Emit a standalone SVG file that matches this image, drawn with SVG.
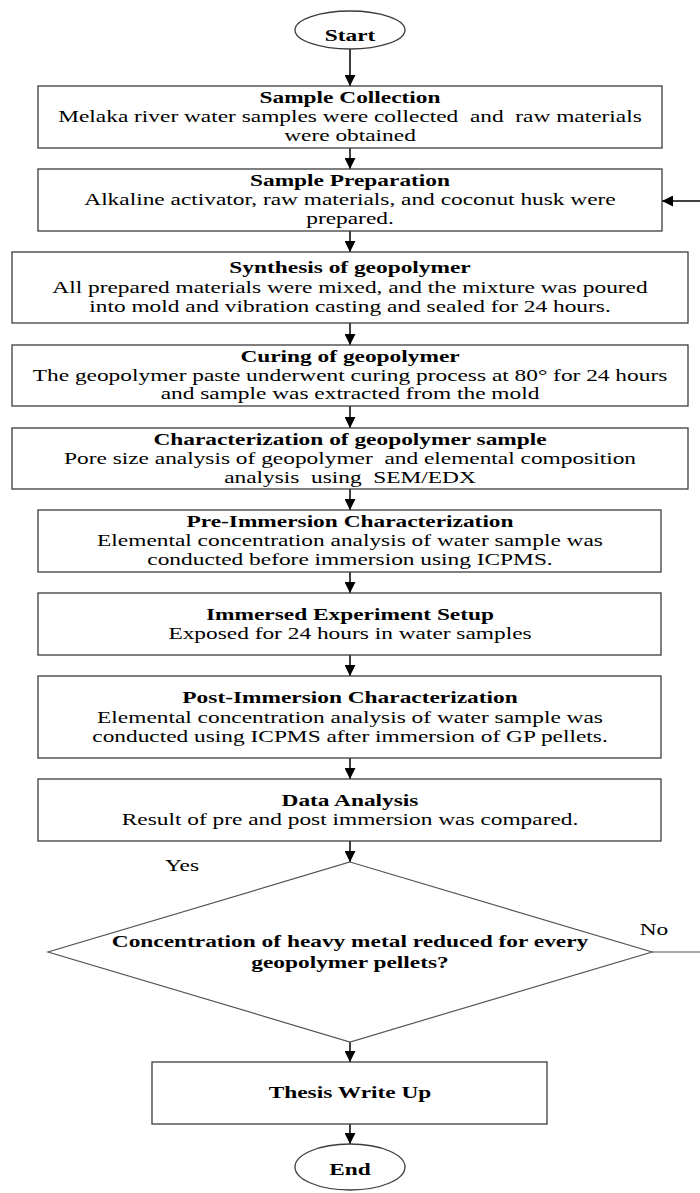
<svg xmlns="http://www.w3.org/2000/svg" width="700" height="1193" viewBox="0 0 700 1193">
<style>
.box{fill:#fff;stroke:#3c3c3c;stroke-width:1.3}
.dia{fill:#fff;stroke:#555;stroke-width:1.2}
.t{font-family:"Liberation Serif","Times New Roman",serif;font-size:16px;fill:#000;text-anchor:middle}
.b{font-weight:bold}
.c line{stroke:#000;stroke-width:1.5}
.c .plain{stroke:#555;stroke-width:1.2}
</style>
<defs>
<marker id="ah" viewBox="0 0 10 10" refX="10" refY="5" markerWidth="11" markerHeight="11" markerUnits="userSpaceOnUse" orient="auto">
<path d="M0,0 L10,5 L0,10 z" fill="#000"/>
</marker>
</defs>
<rect width="700" height="1193" fill="#fff"/>

<g id="connectors" class="c">
<line x1="350" y1="48" x2="350" y2="86" marker-end="url(#ah)"/>
<line x1="350" y1="148" x2="350" y2="169" marker-end="url(#ah)"/>
<line x1="350" y1="231" x2="350" y2="252" marker-end="url(#ah)"/>
<line x1="350" y1="323" x2="350" y2="345" marker-end="url(#ah)"/>
<line x1="350" y1="406" x2="350" y2="428" marker-end="url(#ah)"/>
<line x1="350" y1="489" x2="350" y2="510" marker-end="url(#ah)"/>
<line x1="350" y1="572" x2="350" y2="593" marker-end="url(#ah)"/>
<line x1="350" y1="655" x2="350" y2="676" marker-end="url(#ah)"/>
<line x1="350" y1="758" x2="350" y2="779" marker-end="url(#ah)"/>
<line x1="350" y1="841" x2="350" y2="862" marker-end="url(#ah)"/>
<line x1="350" y1="1042" x2="350" y2="1062" marker-end="url(#ah)"/>
<line x1="350" y1="1124" x2="350" y2="1144" marker-end="url(#ah)"/>
<line class="plain" x1="652" y1="952" x2="700" y2="952"/>
<line x1="700" y1="201" x2="662" y2="201" marker-end="url(#ah)"/>
</g>

<g id="start">
<ellipse class="box" cx="350" cy="30" rx="55" ry="19"/>
<g transform="translate(350 0) scale(1.46 1)"><text class="t b" x="0" y="41">Start</text></g>
</g>

<g id="sample-collection">
<rect class="box" x="38" y="86" width="624" height="62"/>
<g transform="translate(350 0) scale(1.46 1)">
<text class="t b" x="0" y="103">Sample Collection</text>
<text class="t" x="0" y="122" xml:space="preserve">Melaka river water samples were collected  and  raw materials</text>
<text class="t" x="0" y="141">were obtained</text>
</g>
</g>

<g id="sample-preparation">
<rect class="box" x="38" y="169" width="624" height="62"/>
<g transform="translate(350 0) scale(1.46 1)">
<text class="t b" x="0" y="186">Sample Preparation</text>
<text class="t" x="0" y="205">Alkaline activator, raw materials, and coconut husk were</text>
<text class="t" x="0" y="224">prepared.</text>
</g>
</g>

<g id="synthesis">
<rect class="box" x="12" y="252" width="676" height="71"/>
<g transform="translate(350 0) scale(1.46 1)">
<text class="t b" x="0" y="273">Synthesis of geopolymer</text>
<text class="t" x="0" y="293">All prepared materials were mixed, and the mixture was poured</text>
<text class="t" x="0" y="312">into mold and vibration casting and sealed for 24 hours.</text>
</g>
</g>

<g id="curing">
<rect class="box" x="12" y="345" width="676" height="61"/>
<g transform="translate(350 0) scale(1.46 1)">
<text class="t b" x="0" y="362">Curing of geopolymer</text>
<text class="t" x="0" y="381">The geopolymer paste underwent curing process at 80° for 24 hours</text>
<text class="t" x="0" y="399">and sample was extracted from the mold</text>
</g>
</g>

<g id="characterization">
<rect class="box" x="12" y="428" width="676" height="61"/>
<g transform="translate(350 0) scale(1.46 1)">
<text class="t b" x="0" y="445">Characterization of geopolymer sample</text>
<text class="t" x="0" y="464" xml:space="preserve">Pore size analysis of geopolymer  and elemental composition</text>
<text class="t" x="0" y="483" xml:space="preserve">analysis  using  SEM/EDX</text>
</g>
</g>

<g id="pre-immersion">
<rect class="box" x="38" y="510" width="623" height="62"/>
<g transform="translate(350 0) scale(1.46 1)">
<text class="t b" x="0" y="527">Pre-Immersion Characterization</text>
<text class="t" x="0" y="546">Elemental concentration analysis of water sample was</text>
<text class="t" x="0" y="565">conducted before immersion using ICPMS.</text>
</g>
</g>

<g id="immersed-setup">
<rect class="box" x="38" y="593" width="623" height="62"/>
<g transform="translate(350 0) scale(1.46 1)">
<text class="t b" x="0" y="620">Immersed Experiment Setup</text>
<text class="t" x="0" y="639">Exposed for 24 hours in water samples</text>
</g>
</g>

<g id="post-immersion">
<rect class="box" x="38" y="676" width="623" height="82"/>
<g transform="translate(350 0) scale(1.46 1)">
<text class="t b" x="0" y="703">Post-Immersion Characterization</text>
<text class="t" x="0" y="723">Elemental concentration analysis of water sample was</text>
<text class="t" x="0" y="742">conducted using ICPMS after immersion of GP pellets.</text>
</g>
</g>

<g id="data-analysis">
<rect class="box" x="38" y="779" width="623" height="62"/>
<g transform="translate(350 0) scale(1.46 1)">
<text class="t b" x="0" y="806">Data Analysis</text>
<text class="t" x="0" y="825">Result of pre and post immersion was compared.</text>
</g>
</g>

<g id="decision">
<polygon class="dia" points="350,862 652,952 350,1042 48,952"/>
<g transform="translate(350 0) scale(1.46 1)">
<text class="t b" x="0" y="947">Concentration of heavy metal reduced for every</text>
<text class="t b" x="0" y="968">geopolymer pellets?</text>
</g>
<g transform="translate(182 0) scale(1.46 1)"><text class="t" x="0" y="871">Yes</text></g>
<g transform="translate(654 0) scale(1.46 1)"><text class="t" x="0" y="935">No</text></g>
</g>

<g id="thesis">
<rect class="box" x="152" y="1062" width="395" height="62"/>
<g transform="translate(350 0) scale(1.46 1)"><text class="t b" x="0" y="1098">Thesis Write Up</text></g>
</g>

<g id="end">
<ellipse class="box" cx="350" cy="1167" rx="55" ry="23"/>
<g transform="translate(350 0) scale(1.46 1)"><text class="t b" x="0" y="1175">End</text></g>
</g>
</svg>
